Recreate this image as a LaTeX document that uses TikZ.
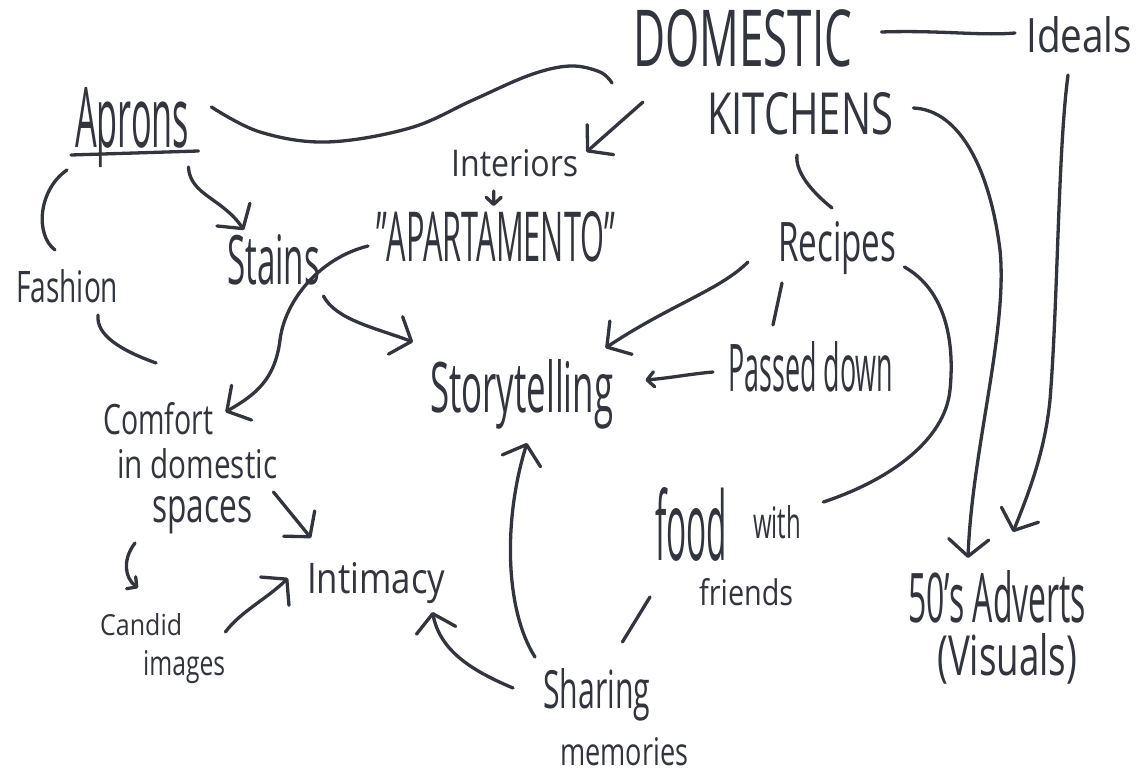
\documentclass[tikz,border=0pt]{standalone}
\usepackage{fontspec}
\setmainfont{Open Sans}
\usepackage{graphicx}
\usetikzlibrary{arrows.meta}
\definecolor{ink}{RGB}{50,53,61}
\tikzset{
  lbl/.style={inner sep=5pt, text=ink, anchor=base west},
  ln/.style={draw=ink, line width=3.3pt, line cap=round, line join=round},
  arr/.style={ln, -{Straight Barb[round, length=17pt, width=40pt]}},
  sarr/.style={ln, -{Straight Barb[round, length=7pt, width=15pt]}}
}
\newcommand{\hw}[3]{\resizebox{#1pt}{#2pt}{#3}}
\begin{document}
\begin{tikzpicture}[x=1pt,y=-1pt]
\useasboundingbox[fill=white] (0,0) rectangle (1138,775);

% ---------- labels ----------
\node[lbl] (dom) at (628,67) {\hw{219}{57}{DOMESTIC}};
\node[lbl] (kit) at (702,135) {\hw{186}{42}{KITCHENS}};
\node[lbl] (ide) at (1021,53) {\hw{106}{36}{Ideals}};
\node[lbl] (apr) at (70,148) {\hw{114}{60}{Aprons}};
\node[lbl] (int) at (446,177) {\hw{127}{27}{Interiors}};
\node[lbl] (apt) at (371,262) {\hw{239}{50}{"APARTAMENTO"}};
\node[lbl] (sta) at (222,285) {\hw{93}{50}{Stains}};
\node[lbl] (fas) at (11,303) {\hw{102}{33}{Fashion}};
\node[lbl] (rec) at (773,262) {\hw{118}{40}{Recipes}};
\node[lbl] (sto) at (425,413) {\hw{183}{53}{Storytelling}};
\node[lbl] (pas) at (723,392) {\hw{165}{50}{Passed down}};
\node[lbl] (com) at (98,435) {\hw{110}{32}{Comfort}};
\node[lbl] (ind) at (112,478) {\hw{160}{30}{in domestic}};
\node[lbl] (spa) at (147,522) {\hw{100}{26}{spaces}};
\node[lbl] (can) at (95,635) {\hw{82}{22}{Candid}};
\node[lbl] (ima) at (138,675) {\hw{82}{25}{images}};
\node[lbl] (inti) at (302,593) {\hw{138}{31}{Intimacy}};
\node[lbl] (food) at (650,560) {\hw{72}{73}{food}};
\node[lbl] (with) at (748,538) {\hw{48}{33}{with}};
\node[lbl] (fri) at (694,605) {\hw{94}{27}{friends}};
\node[lbl] (sha) at (538,708) {\hw{107}{40}{Sharing}};
\node[lbl] (mem) at (555,765) {\hw{128}{28}{memories}};
\node[lbl] (adv) at (903,622) {\hw{178}{52}{50's Adverts}};
\node[lbl] (vis) at (932,675) {\hw{140}{42}{(Visuals)}};

% underline of Aprons
\draw[ln] ([xshift=1pt,yshift=-7pt]apr.base west) -- ([xshift=4pt,yshift=-3pt]apr.base east);

% ---------- connectors ----------
% Domestic -- Ideals
\draw[ln] ([xshift=24pt,yshift=35pt]dom.base east) .. controls (940,30) and (980,36) .. ([xshift=-6pt,yshift=20pt]ide.base west);
% Aprons -- Domestic
\draw[ln] plot[smooth, tension=0.6] coordinates {([xshift=17pt,yshift=41pt]apr.base east) (260,132) (327,142) (410,128) (473,100) (530,75) (570,66) (600,72) ([xshift=-16pt,yshift=-16pt]dom.base west)};
% Domestic -> Interiors
\draw[arr] ([xshift=15pt,yshift=-35pt]dom.base west) -- ([xshift=3pt,yshift=25pt]int.base east);
% Interiors -> Apartamento
\draw[sarr] ([xshift=-21pt,yshift=-14pt]int.base) -- ([xshift=-2pt,yshift=56pt]apt.base);
% Aprons -> Stains
\draw[arr] ([xshift=-6pt,yshift=-19pt]apr.base east) .. controls (190,195) and (222,198) .. ([xshift=22pt,yshift=55pt]sta.base west);
% Aprons -- Fashion
\draw[ln] ([xshift=-3pt,yshift=-22pt]apr.base west) .. controls (38,190) and (35,235) .. ([xshift=44pt,yshift=53pt]fas.base west);
% Fashion -- Comfort
\draw[ln] ([xshift=87pt,yshift=-12pt]fas.base west) .. controls (96,335) and (120,350) .. ([xshift=58pt,yshift=72pt]com.base west);
% Stains -> Storytelling
\draw[arr] ([xshift=-2pt,yshift=-11pt]sta.base east) .. controls (336,320) and (376,328) .. ([xshift=-12pt,yshift=71pt]sto.base west);
% Apartamento -> Comfort
\draw[arr] ([xshift=-3pt,yshift=16pt]apt.base west) .. controls (320,258) and (285,300) .. (280,340) .. controls (275,380) and (255,395) .. ([xshift=7pt,yshift=23pt]com.base east);
% Kitchens -- Recipes
\draw[ln] ([xshift=95pt,yshift=-20pt]kit.base west) .. controls (795,172) and (812,192) .. ([xshift=59pt,yshift=54pt]rec.base west);
% Recipes -> Storytelling
\draw[arr] ([xshift=-25pt,yshift=0pt]rec.base west) .. controls (720,290) and (670,305) .. ([xshift=-13pt,yshift=65pt]sto.base east);
% Recipes -- Passed down
\draw[ln] ([xshift=9pt,yshift=-21pt]rec.base west) -- ([xshift=50pt,yshift=67pt]pas.base west);
% Passed down -> Storytelling
\draw[sarr] ([xshift=-10pt,yshift=20pt]pas.base west) .. controls (690,374) and (670,378) .. ([xshift=27pt,yshift=33pt]sto.base east);
% Recipes -- food with friends
\draw[ln] ([xshift=3pt,yshift=-5pt]rec.base east) .. controls (945,290) and (955,340) .. (950,390) .. controls (945,440) and (890,480) .. ([xshift=17pt,yshift=36pt]with.base east);
% Kitchens -> 50's Adverts
\draw[arr] ([xshift=15pt,yshift=27pt]kit.base east) .. controls (960,110) and (990,170) .. (1000,250) .. controls (1008,330) and (972,450) .. ([xshift=65pt,yshift=64pt]adv.base west);
% Ideals -> 50's Adverts
\draw[arr] ([xshift=47pt,yshift=-22pt]ide.base west) .. controls (1058,150) and (1058,300) .. (1050,400) .. controls (1045,450) and (1030,490) .. ([xshift=110pt,yshift=90pt]adv.base west);
% Comfort -> Intimacy
\draw[arr] ([xshift=-9pt,yshift=-14pt]ind.base east) -- ([xshift=9pt,yshift=55pt]inti.base west);
% Comfort -> Candid images
\draw[sarr] ([xshift=-12pt,yshift=-21pt]spa.base west) .. controls (122,560) and (125,578) .. ([xshift=43pt,yshift=47pt]can.base west);
% Candid images -> Intimacy
\draw[arr] ([xshift=38pt,yshift=3pt]can.base east) .. controls (240,612) and (268,598) .. ([xshift=-14pt,yshift=15pt]inti.base west);
% Sharing memories -> Intimacy
\draw[arr] ([xshift=-25pt,yshift=20pt]sha.base west) .. controls (470,670) and (440,650) .. ([xshift=-18pt,yshift=-19pt]inti.base east);
% Sharing memories -> Storytelling
\draw[arr] ([xshift=-3pt,yshift=51pt]sha.base west) .. controls (505,610) and (503,520) .. ([xshift=102pt,yshift=-30pt]sto.base west);
% food with friends -- Sharing memories
\draw[ln] ([xshift=0pt,yshift=-37pt]food.base west) -- ([xshift=-33pt,yshift=66pt]sha.base east);
\end{tikzpicture}
\end{document}
